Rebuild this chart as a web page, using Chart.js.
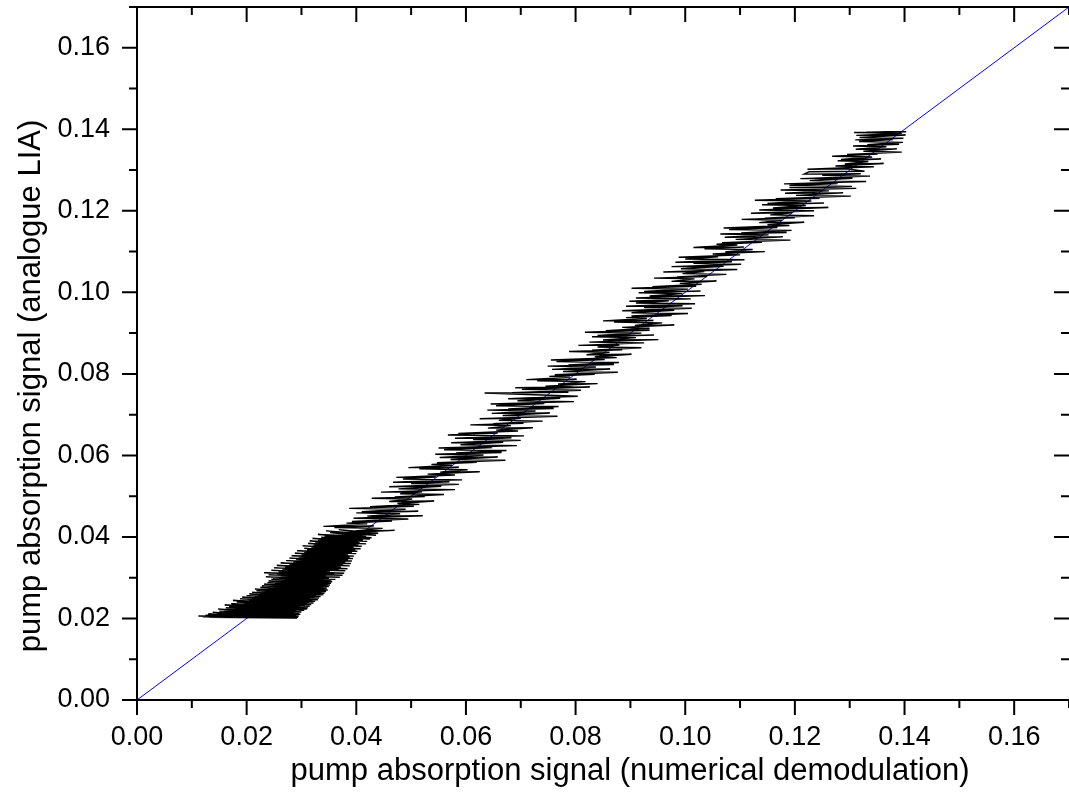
<!DOCTYPE html>
<html>
<head>
<meta charset="utf-8">
<script src="https://cdn.jsdelivr.net/npm/chart.js@4.4.1/dist/chart.umd.min.js"></script>
<style>
  body { margin: 0; background: #fff; }
  canvas { display: block; }
</style>
</head>
<body>
<canvas id="mychart" width="1069" height="809"></canvas>
<script>
// numerical demodulation (x) vs analogue LIA (y)
var demodX = [
  // dense blob near 0.02
  .0120,.0270,.0145,.0288,.0132,.0255,.0112,.0292,.0160,.0280,
  .0135,.0285,.0150,.0265,.0125,.0290,.0170,.0278,.0140,.0294,
  .0155,.0282,.0130,.0272,.0165,.0295,.0145,.0286,.0175,.0276,
  .0138,.0290,.0160,.0298,.0150,.0284,.0180,.0296,.0158,.0288,
  .0148,.0300,.0172,.0290,.0162,.0305,.0185,.0294,.0168,.0310,
  .0178,.0302,.0160,.0312,.0190,.0298,.0172,.0315,.0195,.0306,
  .0182,.0318,.0200,.0310,.0175,.0322,.0205,.0314,.0188,.0325,
  .0210,.0320,.0192,.0330,.0215,.0316,.0200,.0332,.0222,.0324,
  .0205,.0335,.0225,.0326,.0210,.0340,.0230,.0330,.0218,.0342,
  .0235,.0336,.0215,.0345,.0240,.0332,.0225,.0348,.0245,.0338,
  .0228,.0346,.0248,.0340,.0232,.0350,.0252,.0342,.0238,.0352,
  .0258,.0348,.0240,.0354,.0262,.0345,.0245,.0356,.0268,.0355,
  // still dense, 0.030 - 0.041
  .0248,.0362,.0235,.0350,.0262,.0370,.0240,.0345,.0255,.0375,
  .0232,.0360,.0258,.0378,.0245,.0352,.0265,.0380,.0250,.0368,
  .0270,.0384,.0255,.0372,.0278,.0388,.0262,.0376,.0285,.0390,
  .0272,.0380,.0290,.0392,.0278,.0385,.0295,.0394,.0282,.0388,
  .0300,.0396,.0288,.0385,.0305,.0400,.0292,.0392,.0310,.0402,
  .0305,.0398,.0318,.0408,.0302,.0395,.0322,.0410,.0312,.0404,
  .0325,.0418,.0315,.0406,.0330,.0420,.0320,.0412,.0336,.0425,
  .0342,.0428,.0330,.0418,.0352,.0436,.0345,.0425,.0368,.0440,
  // band along the diagonal
  .0425,.0375,.0470,.0398,.0448,.0360,.0432,.0340,.0420,.0382,.0465,.0392,
  .0495,.0395,.0521,.0420,.0480,.0400,.0513,.0410,.0490,.0387,.0505,.0425,
  .0515,.0475,.0542,.0460,.0502,.0428,.0525,.0470,.0560,.0480,.0520,.0445,
  .0580,.0477,.0555,.0460,.0587,.0500,.0570,.0467,.0593,.0485,.0545,.0473,
  .0580,.0530,.0625,.0553,.0603,.0515,.0587,.0495,.0575,.0537,.0620,.0547,
  .0672,.0572,.0658,.0552,.0632,.0544,.0665,.0582,.0674,.0560,.0648,.0550,
  .0693,.0590,.0668,.0573,.0700,.0613,.0683,.0580,.0706,.0567,.0658,.0586,
  .0695,.0655,.0722,.0640,.0682,.0608,.0705,.0650,.0740,.0660,.0700,.0625,
  .0767,.0667,.0753,.0647,.0727,.0639,.0760,.0677,.0769,.0655,.0743,.0645,
  .0797,.0694,.0772,.0677,.0804,.0634,.0787,.0684,.0810,.0702,.0826,.0690,
  .0795,.0745,.0840,.0768,.0818,.0730,.0802,.0710,.0790,.0752,.0835,.0762,
  .0877,.0777,.0863,.0757,.0837,.0749,.0870,.0787,.0879,.0765,.0853,.0755,
  .0875,.0835,.0902,.0820,.0862,.0788,.0885,.0830,.0920,.0840,.0880,.0805,
  .0925,.0825,.0951,.0850,.0910,.0830,.0943,.0840,.0920,.0817,.0935,.0855,
  .0935,.0885,.0980,.0908,.0958,.0870,.0942,.0850,.0930,.0892,.0975,.0902,
  .1005,.0902,.0980,.0885,.1012,.0925,.0995,.0892,.1018,.0910,.0970,.0898,
  .1010,.0910,.1036,.0935,.0995,.0915,.1028,.0925,.1005,.0902,.1020,.0940,
  .1030,.0990,.1057,.0975,.1017,.0943,.1040,.0985,.1075,.0995,.1035,.0960,
  .1095,.0992,.1070,.0975,.1102,.1015,.1085,.0982,.1108,.1000,.1060,.0988,
  .1100,.1050,.1145,.1073,.1123,.1035,.1107,.1015,.1095,.1057,.1140,.1067,
  .1192,.1092,.1178,.1072,.1152,.1064,.1185,.1102,.1194,.1080,.1168,.1070,
  .1190,.1150,.1217,.1135,.1177,.1103,.1200,.1145,.1235,.1155,.1195,.1120,
  .1235,.1135,.1261,.1160,.1220,.1140,.1253,.1150,.1230,.1127,.1245,.1165,
  .1302,.1202,.1288,.1182,.1262,.1174,.1312,.1190,.1304,.1190,.1278,.1180,
  .1330,.1227,.1305,.1210,.1337,.1250,.1320,.1217,.1226,.1327,.1295,.1223,
  .1344,.1274,.1362,.1291,.1334,.1278,.1357,.1284,.1341,.1268,.1351,.1295,
  .1395,.1325,.1386,.1311,.1367,.1306,.1390,.1332,.1397,.1317,.1379,.1310,
  .1398,.1318,.1402,.1312,.1395,.1308,.1403,.1330,.1385,.1360
];
var liaY = [
  // dense blob near 0.02
  .0204,.0202,.0205,.0201,.0203,.0202,.0206,.0201,.0204,.0203,
  .0206,.0202,.0207,.0203,.0208,.0202,.0206,.0204,.0209,.0203,
  .0210,.0205,.0211,.0204,.0212,.0206,.0213,.0205,.0214,.0207,
  .0215,.0208,.0217,.0210,.0218,.0211,.0220,.0212,.0221,.0214,
  .0223,.0216,.0225,.0218,.0226,.0220,.0228,.0221,.0229,.0223,
  .0231,.0225,.0233,.0226,.0235,.0228,.0236,.0230,.0238,.0232,
  .0240,.0234,.0242,.0236,.0244,.0238,.0246,.0240,.0248,.0242,
  .0250,.0244,.0252,.0246,.0254,.0248,.0256,.0250,.0258,.0252,
  .0260,.0254,.0262,.0256,.0264,.0258,.0266,.0260,.0268,.0262,
  .0270,.0264,.0272,.0266,.0274,.0268,.0276,.0270,.0278,.0272,
  .0280,.0274,.0282,.0276,.0284,.0278,.0286,.0280,.0288,.0282,
  .0290,.0284,.0292,.0286,.0294,.0288,.0296,.0290,.0298,.0292,
  // still dense, 0.030 - 0.041
  .0300,.0296,.0302,.0299,.0305,.0301,.0307,.0304,.0310,.0306,
  .0312,.0308,.0315,.0311,.0318,.0314,.0321,.0317,.0324,.0320,
  .0327,.0322,.0330,.0326,.0333,.0329,.0336,.0332,.0339,.0335,
  .0342,.0338,.0345,.0341,.0348,.0344,.0351,.0347,.0354,.0350,
  .0357,.0353,.0360,.0356,.0363,.0359,.0366,.0362,.0369,.0365,
  .0372,.0368,.0375,.0371,.0378,.0374,.0381,.0377,.0384,.0380,
  .0387,.0383,.0390,.0386,.0393,.0389,.0396,.0392,.0399,.0395,
  .0402,.0398,.0406,.0401,.0411,.0404,.0415,.0407,.0418,.0409,
  // band along the diagonal
  .0408,.0410,.0416,.0415,.0421,.0423,.0427,.0426,.0432,.0434,.0439,.0438,
  .0444,.0446,.0452,.0451,.0457,.0459,.0463,.0462,.0468,.0470,.0475,.0474,
  .0480,.0482,.0488,.0487,.0493,.0495,.0499,.0498,.0504,.0506,.0511,.0510,
  .0516,.0518,.0524,.0523,.0529,.0531,.0535,.0534,.0540,.0542,.0547,.0546,
  .0552,.0554,.0560,.0559,.0565,.0567,.0571,.0570,.0576,.0578,.0583,.0582,
  .0588,.0590,.0596,.0595,.0601,.0603,.0607,.0606,.0612,.0614,.0619,.0618,
  .0624,.0626,.0632,.0631,.0637,.0639,.0643,.0642,.0648,.0650,.0655,.0654,
  .0660,.0662,.0668,.0667,.0673,.0675,.0679,.0678,.0684,.0686,.0691,.0690,
  .0696,.0698,.0704,.0703,.0709,.0711,.0715,.0714,.0720,.0722,.0727,.0726,
  .0732,.0734,.0740,.0739,.0745,.0753,.0755,.0754,.0760,.0762,.0768,.0766,
  .0768,.0770,.0776,.0775,.0781,.0783,.0787,.0786,.0792,.0794,.0799,.0798,
  .0804,.0806,.0812,.0811,.0817,.0819,.0823,.0822,.0828,.0830,.0835,.0834,
  .0840,.0842,.0848,.0847,.0853,.0855,.0859,.0858,.0864,.0866,.0871,.0870,
  .0876,.0878,.0884,.0883,.0889,.0891,.0895,.0894,.0900,.0902,.0907,.0906,
  .0912,.0914,.0920,.0919,.0925,.0927,.0931,.0930,.0936,.0938,.0943,.0942,
  .0948,.0950,.0956,.0955,.0961,.0963,.0967,.0966,.0972,.0974,.0979,.0978,
  .0984,.0986,.0992,.0991,.0997,.0999,.1003,.1002,.1008,.1010,.1015,.1014,
  .1020,.1022,.1028,.1027,.1033,.1035,.1039,.1038,.1044,.1046,.1051,.1050,
  .1056,.1058,.1064,.1063,.1069,.1071,.1075,.1074,.1080,.1082,.1087,.1086,
  .1092,.1094,.1100,.1099,.1105,.1107,.1111,.1110,.1116,.1118,.1123,.1122,
  .1128,.1130,.1136,.1135,.1141,.1143,.1147,.1146,.1152,.1154,.1159,.1158,
  .1164,.1166,.1172,.1171,.1177,.1179,.1183,.1182,.1188,.1190,.1195,.1194,
  .1200,.1202,.1208,.1207,.1213,.1215,.1219,.1218,.1224,.1226,.1231,.1230,
  .1236,.1238,.1244,.1243,.1249,.1251,.1255,.1257,.1260,.1262,.1267,.1266,
  .1272,.1274,.1280,.1279,.1285,.1287,.1291,.1290,.1296,.1297,.1303,.1302,
  .1308,.1310,.1316,.1315,.1321,.1323,.1327,.1326,.1332,.1334,.1339,.1338,
  .1344,.1346,.1352,.1351,.1357,.1359,.1363,.1362,.1368,.1370,.1375,.1374,
  .1378,.1380,.1386,.1385,.1390,.1392,.1394,.1393,.1390,.1388
];
// y = x reference line
var refX = [0, 0.17];
var refY = [0, 0.17];

var majorTicks = [0, 0.02, 0.04, 0.06, 0.08, 0.10, 0.12, 0.14, 0.16];
var minorTicks = [0.01, 0.03, 0.05, 0.07, 0.09, 0.11, 0.13, 0.15, 0.17];

var xTitle = 'pump absorption signal (numerical demodulation)';
var yTitle = 'pump absorption signal (analogue LIA)';

var fontFamily = '"Liberation Sans", Arial, Helvetica, sans-serif';

// frame, tick marks (out on left/bottom, in on top/right) and axis titles
var frameTicks = {
    id: 'frameTicks',
    afterDraw: function (chart) {
        var ctx = chart.ctx;
        var a = chart.chartArea;
        var xs = chart.scales.x;
        var ys = chart.scales.y;
        ctx.save();
        ctx.strokeStyle = '#000';
        ctx.lineWidth = 2;
        ctx.beginPath();
        ctx.moveTo(a.left, a.bottom + 1);
        ctx.lineTo(a.left, a.top);
        ctx.lineTo(a.right + 2, a.top);
        ctx.moveTo(a.left - 1, a.bottom);
        ctx.lineTo(a.right + 2, a.bottom);

        function xTick(v, len) {
            var px = xs.getPixelForValue(v);
            ctx.moveTo(px, a.bottom);
            ctx.lineTo(px, a.bottom + len);
            ctx.moveTo(px, a.top);
            ctx.lineTo(px, a.top + len);
        }
        function yTick(v, len) {
            var py = ys.getPixelForValue(v);
            ctx.moveTo(a.left - len, py);
            ctx.lineTo(a.left, py);
            ctx.moveTo(a.right - len, py);
            ctx.lineTo(a.right, py);
        }
        majorTicks.forEach(function (v) { xTick(v, 15); yTick(v, 15); });
        minorTicks.forEach(function (v) { xTick(v, 8); yTick(v, 8); });
        ctx.stroke();

        // axis titles
        ctx.fillStyle = '#000';
        ctx.font = '31px ' + fontFamily;
        ctx.textAlign = 'center';
        ctx.textBaseline = 'middle';
        ctx.fillText(xTitle, 630, 771);
        ctx.translate(31, 386);
        ctx.rotate(-Math.PI / 2);
        ctx.fillText(yTitle, 0, 0);
        ctx.restore();
    }
};

var tracePts = [];
for (var i = 0; i < demodX.length; i++) {
    tracePts.push({ x: demodX[i], y: liaY[i] });
}
var refPts = [];
for (var j = 0; j < refX.length; j++) {
    refPts.push({ x: refX[j], y: refY[j] });
}

const ctr = document.getElementById('mychart');

new Chart(ctr, {
    type: 'scatter',
    data: {
        datasets: [{
            data: tracePts,
            showLine: true,
            borderColor: '#000',
            borderWidth: 1.4,
            pointRadius: 0,
            tension: 0
        }, {
            data: refPts,
            showLine: true,
            borderColor: '#0000ff',
            borderWidth: 1,
            pointRadius: 0,
            tension: 0
        }]
    },
    options: {
        responsive: false,
        animation: false,
        devicePixelRatio: 1,
        layout: { padding: { top: 7, right: 0, left: 0, bottom: 0 } },
        plugins: {
            legend: { display: false },
            tooltip: { enabled: false }
        },
        scales: {
            x: {
                type: 'linear',
                min: 0,
                max: 0.17,
                afterBuildTicks: function (s) {
                    s.ticks = majorTicks.map(function (v) { return { value: v }; });
                },
                afterFit: function (s) {
                    s.height = 109;
                    s.paddingLeft = 0;
                    s.paddingRight = 0;
                },
                grid: { display: false, drawTicks: false },
                border: { display: false },
                ticks: {
                    color: '#000',
                    padding: 21,
                    maxRotation: 0,
                    font: { family: fontFamily, size: 27 },
                    callback: function (v) { return v.toFixed(2); }
                }
            },
            y: {
                type: 'linear',
                min: 0,
                max: 0.17,
                afterBuildTicks: function (s) {
                    s.ticks = majorTicks.map(function (v) { return { value: v }; });
                },
                afterFit: function (s) {
                    s.width = 137;
                    s.paddingTop = 0;
                    s.paddingBottom = 0;
                },
                grid: { display: false, drawTicks: false },
                border: { display: false },
                ticks: {
                    color: '#000',
                    padding: 27,
                    font: { family: fontFamily, size: 27 },
                    callback: function (v) { return v.toFixed(2); }
                }
            }
        }
    },
    plugins: [frameTicks]
});
</script>
</body>
</html>
